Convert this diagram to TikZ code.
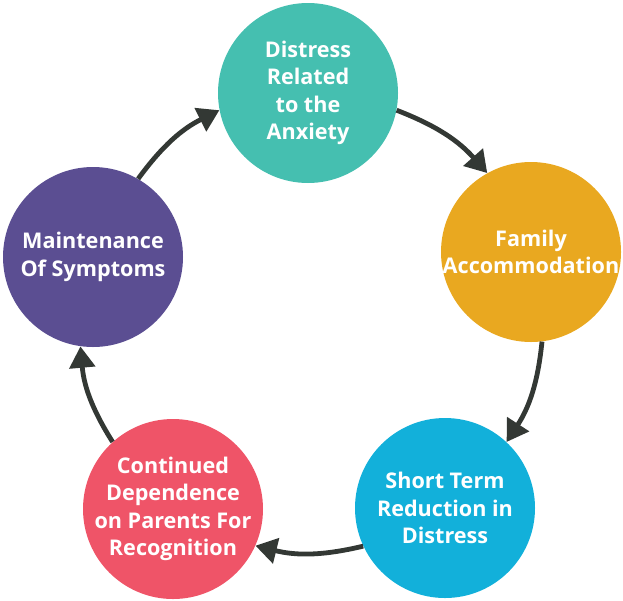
\documentclass[tikz,border=0pt]{standalone}
\usepackage{fontspec}
\setmainfont{Open Sans}
\usetikzlibrary{arrows.meta}

\definecolor{discteal}{RGB}{69,191,176}
\definecolor{discorange}{RGB}{233,168,32}
\definecolor{discblue}{RGB}{18,176,218}
\definecolor{discred}{RGB}{239,84,104}
\definecolor{discpurple}{RGB}{91,78,146}
\definecolor{arrowgray}{RGB}{51,56,52}

\tikzset{
  disc/.style={circle, minimum size=135pt, inner sep=0pt, fill=#1},
  disctext/.style={text=white, inner sep=0pt, align=center,
    font=\bfseries\fontsize{16.2}{20.6}\selectfont},
  cyc/.style={color=arrowgray, line width=3.6pt,
    -{Triangle[length=16pt,width=19pt]}},
}

\begin{document}
\begin{tikzpicture}[x=0.75pt,y=0.75pt,yscale=-1,xscale=1]
\useasboundingbox (0,0) rectangle (623,600);

% the five stages
\node[disc=discteal,   label={[disctext]center:Distress\\Related\\to the\\Anxiety}] (distress) at (308,93) {};
\node[disc=discorange, label={[disctext]center:Family\\Accommodation}] (family) at (531,252) {};
\node[disc=discblue,   label={[disctext]center:Short Term\\Reduction in\\Distress}] (reduction) at (445,508) {};
\node[disc=discred,    label={[disctext]center:Continued\\Dependence\\on Parents For\\Recognition}] (dependence) at (173,509) {};
\node[disc=discpurple, label={[disctext]center:Maintenance\\Of Symptoms}] (maintenance) at (93,257) {};

% arrows round the cycle
\draw[cyc] (distress.-11.2) to[bend right=13.6] (family.119.2);
\draw[cyc] (family.-83.2) to[bend right=13.6] (reduction.47.2);
\draw[cyc] (reduction.-155.2) to[bend right=13.6] (dependence.-24.8);
\draw[cyc] (dependence.132.8) to[bend right=13.6] (maintenance.-98);
\draw[cyc] (maintenance.60.8) to[bend right=13.6] (distress.191.2);
\end{tikzpicture}
\end{document}
